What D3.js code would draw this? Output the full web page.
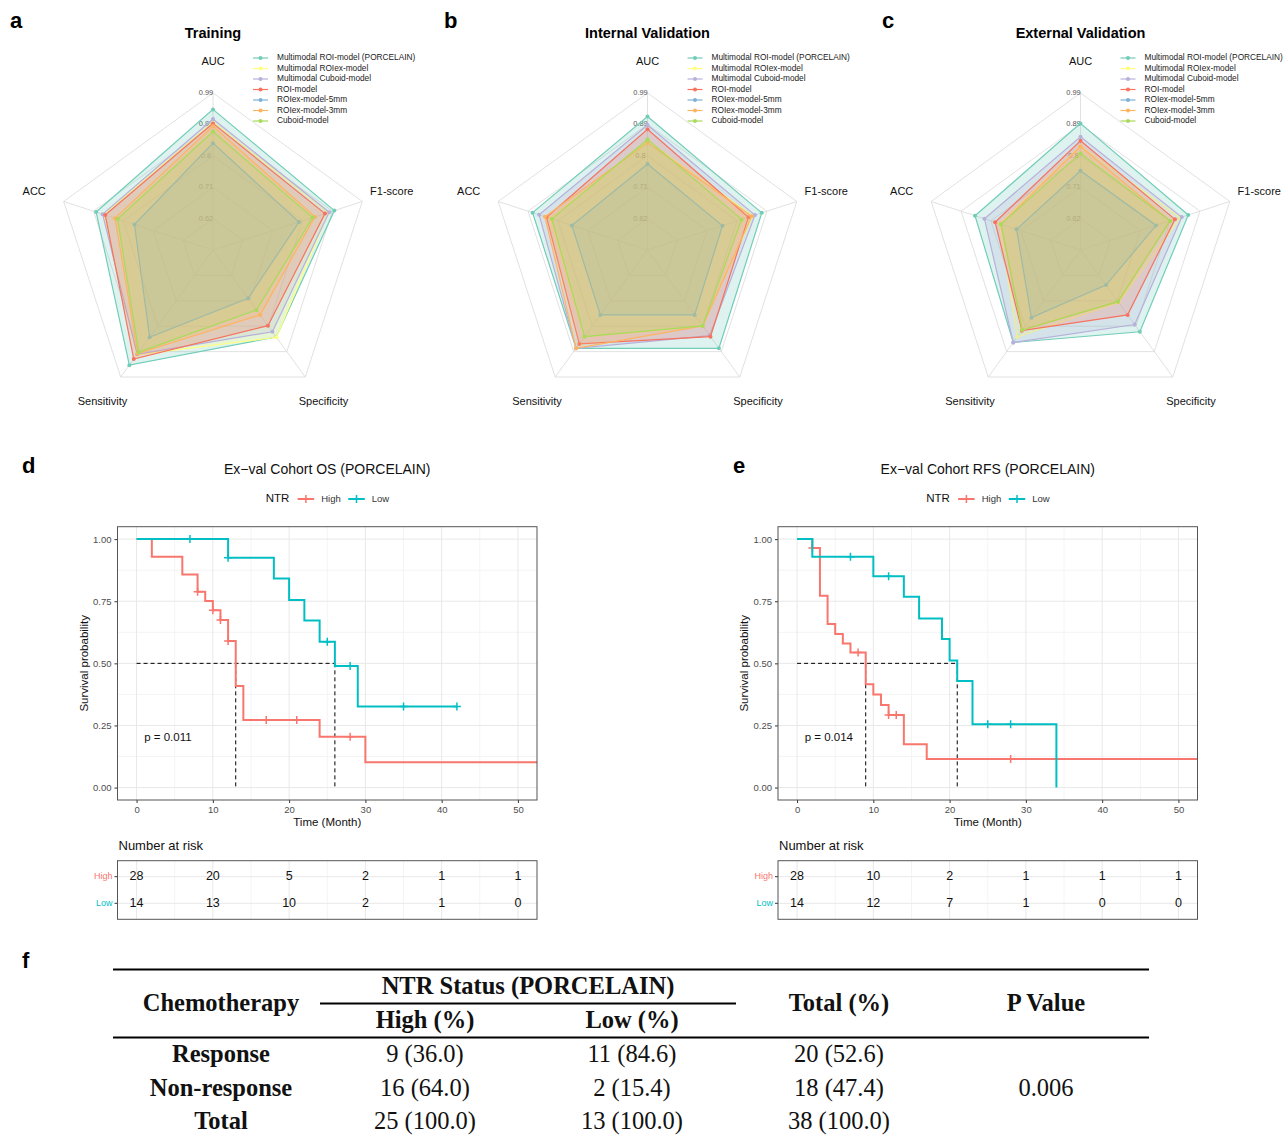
<!DOCTYPE html>
<html>
<head>
<meta charset="utf-8">
<script src="https://cdn.jsdelivr.net/npm/d3@7"></script>
<style>
  body { margin: 0; background: #fff; }
  text { font-family: "Liberation Sans", Arial, sans-serif; }
</style>
</head>
<body>
<div id="fig"></div>
<script>
// ---- radar data ----
var radarAxes = ["AUC", "F1-score", "Specificity", "Sensitivity", "ACC"];
var radarTickValues = [0.622, 0.714, 0.806, 0.898, 0.99];
var radarTickLabels = ["0.62", "0.71", "0.8", "0.89", "0.99"];
var modelNames = ["Multimodal ROI-model (PORCELAIN)", "Multimodal ROIex-model", "Multimodal Cuboid-model",
  "ROI-model", "ROIex-model-5mm", "ROIex-model-3mm", "Cuboid-model"];
var modelColors = ["#72CDB8", "#FFFF80", "#B7B0DB", "#F6735F", "#7FB0D6", "#FDB462", "#A8DB5A"];

// values per model, in radarAxes order
var trainingValues = [
  [0.942, 0.904, 0.845, 0.947, 0.890],
  [0.905, 0.886, 0.846, 0.910, 0.866],
  [0.914, 0.888, 0.826, 0.908, 0.870],
  [0.901, 0.875, 0.804, 0.925, 0.862],
  [0.843, 0.795, 0.705, 0.846, 0.772],
  [0.893, 0.844, 0.765, 0.905, 0.832],
  [0.877, 0.837, 0.747, 0.900, 0.824]
];
var internalValues = [
  [0.921, 0.882, 0.886, 0.886, 0.884],
  [0.850, 0.855, 0.805, 0.845, 0.830],
  [0.896, 0.861, 0.840, 0.886, 0.864],
  [0.884, 0.841, 0.844, 0.870, 0.841],
  [0.782, 0.761, 0.765, 0.765, 0.763],
  [0.844, 0.851, 0.805, 0.886, 0.846],
  [0.854, 0.820, 0.805, 0.844, 0.825]
];
var externalValues = [
  [0.901, 0.862, 0.826, 0.865, 0.855],
  [0.835, 0.838, 0.720, 0.845, 0.780],
  [0.862, 0.842, 0.800, 0.865, 0.826],
  [0.850, 0.821, 0.765, 0.822, 0.793],
  [0.762, 0.763, 0.657, 0.775, 0.727],
  [0.833, 0.806, 0.717, 0.820, 0.775],
  [0.813, 0.806, 0.717, 0.820, 0.775]
];

// ---- survival data: [time, survival] steps, censor times ----
var osHighSteps = [[0,1],[2,0.929],[6,0.858],[8,0.788],[9,0.751],[10,0.714],[11,0.674],[12,0.59],[13,0.409],[14,0.272],[24,0.205],[30,0.102],[60,0.102]];
var osHighCensor = [8, 10, 11, 12, 17, 21, 28];
var osLowSteps = [[0,1],[12,0.925],[18,0.842],[20,0.755],[22,0.672],[24,0.587],[26,0.489],[29,0.326],[42,0.326]];
var osLowCensor = [7, 12, 25, 28, 35, 42];
var osMedians = [13, 26];
var osRiskHigh = [28, 20, 5, 2, 1, 1];
var osRiskLow = [14, 13, 10, 2, 1, 0];

var rfsHighSteps = [[0,1],[2,0.964],[3,0.772],[4,0.658],[5,0.618],[6,0.58],[7,0.544],[9,0.416],[10,0.375],[11,0.332],[12,0.292],[14,0.174],[17,0.115],[60,0.115]];
var rfsHighCensor = [2, 8, 12, 13, 28];
var rfsLowSteps = [[0,1],[2,0.929],[10,0.851],[14,0.768],[16,0.681],[19,0.598],[20,0.511],[21,0.429],[23,0.255],[34,0.255],[34,0]];
var rfsLowCensor = [7, 12, 25, 28];
var rfsMedians = [9, 21];
var rfsRiskHigh = [28, 10, 2, 1, 1, 1];
var rfsRiskLow = [14, 12, 7, 1, 0, 0];

var timeTicks = [0, 10, 20, 30, 40, 50];
var survTicks = [0, 0.25, 0.5, 0.75, 1];

// ---- table f ----
var tableRows = ["Response", "Non-response", "Total"];
var tableHigh = ["9 (36.0)", "16 (64.0)", "25 (100.0)"];
var tableLow = ["11 (84.6)", "2 (15.4)", "13 (100.0)"];
var tableTotal = ["20 (52.6)", "18 (47.4)", "38 (100.0)"];
var tablePValue = ["", "0.006", ""];

var HIGH = "#F8766D", LOW = "#00BFC4";

var svg = d3.select("#fig").append("svg")
  .attr("width", 1288).attr("height", 1136)
  .style("background", "#fff");

function letter(x, y, t) {
  svg.append("text").attr("x", x).attr("y", y).attr("dominant-baseline", "middle")
    .attr("font-size", 22).attr("font-weight", "bold").text(t);
}

// ================= radar =================
function drawRadar(cx, cy, title, values) {
  var R = 157;
  var g = svg.append("g").attr("transform", "translate(" + cx + "," + cy + ")");
  var r = d3.scaleLinear().domain([0.53, 0.99]).range([0, R]);
  var ang = function(i) { return i * 2 * Math.PI / radarAxes.length; };
  var pt = function(rad, i) { return [rad * Math.sin(ang(i)), -rad * Math.cos(ang(i))]; };

  svg.append("text").attr("x", cx).attr("y", 34).attr("text-anchor", "middle")
    .attr("dominant-baseline", "middle").attr("font-size", 14.5).attr("font-weight", "bold").text(title);

  // grid rings + spokes
  radarTickValues.forEach(function(tv) {
    var pts = radarAxes.map(function(a, i) { return pt(r(tv), i); });
    g.append("polygon").attr("points", pts.map(function(p) { return p.join(","); }).join(" "))
      .attr("fill", "none").attr("stroke", "#d9d9d9").attr("stroke-width", 0.8);
  });
  radarAxes.forEach(function(a, i) {
    var p = pt(R, i);
    g.append("line").attr("x1", 0).attr("y1", 0).attr("x2", p[0]).attr("y2", p[1])
      .attr("stroke", "#d9d9d9").attr("stroke-width", 0.8);
    var q = pt(188, i);
    g.append("text").attr("x", q[0]).attr("y", q[1]).attr("text-anchor", "middle")
      .attr("dominant-baseline", "middle").attr("font-size", 11).attr("fill", "#111").text(a);
  });
  radarTickValues.forEach(function(tv, k) {
    g.append("text").attr("x", -7).attr("y", -r(tv)).attr("text-anchor", "middle")
      .attr("dominant-baseline", "middle").attr("font-size", 7.4).attr("fill", "#555")
      .text(radarTickLabels[k]);
  });

  // polygons
  values.forEach(function(vals, m) {
    var pts = vals.map(function(v, i) { return pt(r(v), i); });
    g.append("polygon").attr("points", pts.map(function(p) { return p.join(","); }).join(" "))
      .attr("fill", modelColors[m]).attr("fill-opacity", 0.23)
      .attr("stroke", modelColors[m]).attr("stroke-width", 1.2);
    pts.forEach(function(p) {
      g.append("circle").attr("cx", p[0]).attr("cy", p[1]).attr("r", 2).attr("fill", modelColors[m]);
    });
  });

  // legend
  var lg = svg.append("g").attr("transform", "translate(" + (cx + 40) + ",58)");
  modelNames.forEach(function(n, m) {
    var y = m * 10.5;
    lg.append("line").attr("x1", 0).attr("x2", 15).attr("y1", y).attr("y2", y)
      .attr("stroke", modelColors[m]).attr("stroke-width", 1.2);
    lg.append("circle").attr("cx", 7.5).attr("cy", y).attr("r", 2).attr("fill", modelColors[m]);
    lg.append("text").attr("x", 24).attr("y", y).attr("dominant-baseline", "middle")
      .attr("font-size", 8.3).attr("fill", "#222").text(n);
  });
}

letter(10, 22, "a");
letter(444, 22, "b");
letter(882, 22, "c");
drawRadar(213, 250, "Training", trainingValues);
drawRadar(647.5, 250, "Internal Validation", internalValues);
drawRadar(1080.5, 250, "External Validation", externalValues);

// ================= KM =================
var kmId = 0;
function drawKM(left, right, title, highSteps, highCensor, lowSteps, lowCensor, medians, pText, riskHigh, riskLow) {
  var top = 526.7, bottom = 800;
  var x = d3.scaleLinear().domain([-2.5, 52.5]).range([left, right]);
  var y = d3.scaleLinear().domain([-0.05, 1.05]).range([bottom, top]);
  var mid = (left + right) / 2;
  kmId++;

  svg.append("text").attr("x", mid).attr("y", 470).attr("text-anchor", "middle")
    .attr("dominant-baseline", "middle").attr("font-size", 14).attr("fill", "#111").text(title);

  // legend
  var lg = svg.append("g").attr("transform", "translate(" + mid + ",499)");
  lg.append("text").attr("x", -61.5).attr("y", 0).attr("dominant-baseline", "middle")
    .attr("font-size", 11.5).attr("fill", "#111").text("NTR");
  [[HIGH, -29.6, "High"], [LOW, 21, "Low"]].forEach(function(d) {
    lg.append("line").attr("x1", d[1]).attr("x2", d[1] + 16.5).attr("y1", 0).attr("y2", 0)
      .attr("stroke", d[0]).attr("stroke-width", 2);
    lg.append("path").attr("d", "M" + (d[1] + 8.25) + ",-4V4").attr("stroke", d[0]).attr("stroke-width", 1.5);
    lg.append("text").attr("x", d[1] + 23.5).attr("y", 0).attr("dominant-baseline", "middle")
      .attr("font-size", 9.5).attr("fill", "#333").text(d[2]);
  });

  // grid
  var g = svg.append("g");
  d3.range(5, 55, 10).forEach(function(t) {
    g.append("line").attr("x1", x(t)).attr("x2", x(t)).attr("y1", top).attr("y2", bottom).attr("stroke", "#f4f4f4");
  });
  [0.125, 0.375, 0.625, 0.875].forEach(function(v) {
    g.append("line").attr("x1", left).attr("x2", right).attr("y1", y(v)).attr("y2", y(v)).attr("stroke", "#f4f4f4");
  });
  timeTicks.forEach(function(t) {
    g.append("line").attr("x1", x(t)).attr("x2", x(t)).attr("y1", top).attr("y2", bottom).attr("stroke", "#e8e8e8");
  });
  survTicks.forEach(function(v) {
    g.append("line").attr("x1", left).attr("x2", right).attr("y1", y(v)).attr("y2", y(v)).attr("stroke", "#e8e8e8");
  });

  // axes
  var xa = svg.append("g").attr("transform", "translate(0," + bottom + ")")
    .call(d3.axisBottom(x).tickValues(timeTicks).tickSize(3).tickPadding(3));
  var ya = svg.append("g").attr("transform", "translate(" + left + ",0)")
    .call(d3.axisLeft(y).tickValues(survTicks).tickFormat(d3.format(".2f")).tickSize(3).tickPadding(3));
  [xa, ya].forEach(function(a) {
    a.select(".domain").remove();
    a.selectAll(".tick line").attr("stroke", "#333");
    a.selectAll("text").attr("font-size", 9.5).attr("fill", "#4d4d4d")
      .style("font-family", "'Liberation Sans', Arial, sans-serif");
  });
  svg.append("text").attr("x", mid).attr("y", 823).attr("text-anchor", "middle")
    .attr("dominant-baseline", "middle").attr("font-size", 11.5).attr("fill", "#111").text("Time (Month)");
  svg.append("text").attr("transform", "translate(" + (left - 33) + "," + ((top + bottom) / 2) + ") rotate(-90)")
    .attr("text-anchor", "middle").attr("dominant-baseline", "middle")
    .attr("font-size", 11.5).attr("fill", "#111").text("Survival probability");

  // clip
  svg.append("clipPath").attr("id", "km" + kmId).append("rect")
    .attr("x", left).attr("y", top).attr("width", right - left).attr("height", bottom - top);
  var pg = svg.append("g").attr("clip-path", "url(#km" + kmId + ")");

  // median lines
  var maxMed = d3.max(medians);
  pg.append("line").attr("x1", x(0)).attr("x2", x(maxMed)).attr("y1", y(0.5)).attr("y2", y(0.5))
    .attr("stroke", "#000").attr("stroke-width", 1).attr("stroke-dasharray", "4,3");
  medians.forEach(function(m) {
    pg.append("line").attr("x1", x(m)).attr("x2", x(m)).attr("y1", y(0.5)).attr("y2", y(0))
      .attr("stroke", "#000").attr("stroke-width", 1).attr("stroke-dasharray", "4,3");
  });

  var line = d3.line().x(function(d) { return x(d[0]); }).y(function(d) { return y(d[1]); })
    .curve(d3.curveStepAfter);
  function surv(steps, t) {
    var s = 1;
    steps.forEach(function(d) { if (d[0] <= t) s = d[1]; });
    return s;
  }
  [[highSteps, highCensor, HIGH], [lowSteps, lowCensor, LOW]].forEach(function(grp) {
    pg.append("path").attr("d", line(grp[0])).attr("fill", "none")
      .attr("stroke", grp[2]).attr("stroke-width", 2);
    grp[1].forEach(function(t) {
      var cxp = x(t), cyp = y(surv(grp[0], t));
      pg.append("path").attr("d", "M" + (cxp - 4) + "," + cyp + "H" + (cxp + 4) + "M" + cxp + "," + (cyp - 4) + "V" + (cyp + 4))
        .attr("stroke", grp[2]).attr("stroke-width", 1.5);
    });
  });

  pg.append("text").attr("x", x(1)).attr("y", y(0.2)).attr("dominant-baseline", "middle")
    .attr("font-size", 11.5).attr("fill", "#111").text(pText);

  svg.append("rect").attr("x", left).attr("y", top).attr("width", right - left).attr("height", bottom - top)
    .attr("fill", "none").attr("stroke", "#555").attr("stroke-width", 1);

  // risk table
  var rTop = 860.7, rBottom = 919.3;
  var ry = d3.scalePoint().domain(["High", "Low"]).range([rTop + 16, rBottom - 16]);
  svg.append("text").attr("x", left + 1).attr("y", 846.7).attr("dominant-baseline", "middle")
    .attr("font-size", 13).attr("fill", "#111").text("Number at risk");
  var rg = svg.append("g");
  d3.range(5, 55, 10).forEach(function(t) {
    rg.append("line").attr("x1", x(t)).attr("x2", x(t)).attr("y1", rTop).attr("y2", rBottom).attr("stroke", "#f4f4f4");
  });
  timeTicks.forEach(function(t) {
    rg.append("line").attr("x1", x(t)).attr("x2", x(t)).attr("y1", rTop).attr("y2", rBottom).attr("stroke", "#e8e8e8");
  });
  [["High", riskHigh, HIGH], ["Low", riskLow, LOW]].forEach(function(row) {
    rg.append("line").attr("x1", left).attr("x2", right).attr("y1", ry(row[0])).attr("y2", ry(row[0])).attr("stroke", "#e8e8e8");
    rg.append("line").attr("x1", left - 3).attr("x2", left).attr("y1", ry(row[0])).attr("y2", ry(row[0])).attr("stroke", "#333");
    rg.append("text").attr("x", left - 5).attr("y", ry(row[0])).attr("text-anchor", "end")
      .attr("dominant-baseline", "middle").attr("font-size", 9).attr("fill", row[2]).text(row[0]);
    row[1].forEach(function(n, k) {
      rg.append("text").attr("x", x(timeTicks[k])).attr("y", ry(row[0])).attr("text-anchor", "middle")
        .attr("dominant-baseline", "middle").attr("font-size", 12.5).attr("fill", "#111").text(n);
    });
  });
  rg.append("rect").attr("x", left).attr("y", rTop).attr("width", right - left).attr("height", rBottom - rTop)
    .attr("fill", "none").attr("stroke", "#555").attr("stroke-width", 1);
}

letter(22, 467, "d");
letter(733, 467, "e");
drawKM(117.5, 537, "Ex\u2212val Cohort OS (PORCELAIN)", osHighSteps, osHighCensor, osLowSteps, osLowCensor,
  osMedians, "p = 0.011", osRiskHigh, osRiskLow);
drawKM(778, 1197.5, "Ex\u2212val Cohort RFS (PORCELAIN)", rfsHighSteps, rfsHighCensor, rfsLowSteps, rfsLowCensor,
  rfsMedians, "p = 0.014", rfsRiskHigh, rfsRiskLow);

// ================= table f =================
letter(22, 962, "f");
var tg = svg.append("g");
var colX = [221, 425, 632, 839, 1046];
function cell(x, y, t, bold) {
  tg.append("text").attr("x", x).attr("y", y).attr("text-anchor", "middle").attr("dominant-baseline", "middle")
    .attr("font-size", 24.5).attr("font-weight", bold ? "bold" : "normal").attr("fill", "#111")
    .style("font-family", "'Liberation Serif', 'Times New Roman', serif").text(t);
}
tg.append("line").attr("x1", 113).attr("x2", 1149).attr("y1", 969.5).attr("y2", 969.5).attr("stroke", "#000").attr("stroke-width", 2);
tg.append("line").attr("x1", 320).attr("x2", 736).attr("y1", 1003.5).attr("y2", 1003.5).attr("stroke", "#000").attr("stroke-width", 2);
tg.append("line").attr("x1", 113).attr("x2", 1149).attr("y1", 1037.5).attr("y2", 1037.5).attr("stroke", "#000").attr("stroke-width", 2);
cell(colX[0], 1005, "Chemotherapy", true);
cell(528, 988, "NTR Status (PORCELAIN)", true);
cell(colX[1], 1022, "High (%)", true);
cell(colX[2], 1022, "Low (%)", true);
cell(colX[3], 1005, "Total (%)", true);
cell(colX[4], 1005, "P Value", true);
var rowY = [1056, 1090, 1123];
tableRows.forEach(function(r, i) {
  cell(colX[0], rowY[i], r, true);
  cell(colX[1], rowY[i], tableHigh[i]);
  cell(colX[2], rowY[i], tableLow[i]);
  cell(colX[3], rowY[i], tableTotal[i]);
  if (tablePValue[i]) cell(colX[4], rowY[i], tablePValue[i]);
});
</script>
</body>
</html>
